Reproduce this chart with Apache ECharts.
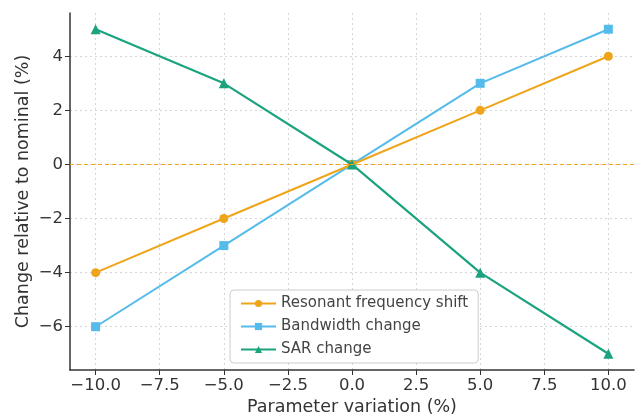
<!DOCTYPE html>
<html><head><meta charset="utf-8">
<script src="https://cdn.jsdelivr.net/npm/echarts@6/dist/echarts.min.js"></script>
<style>html,body{margin:0;padding:0;background:#fff}#c{width:641px;height:416px}</style>
</head><body><div id="c"></div>
<script>
const xValues = [-10, -5, 0, 5, 10];
const resonantShift = [-4, -2, 0, 2, 4];
const bandwidthChange = [-6, -3, 0, 3, 5];
const sarChange = [5, 3, 0, -4, -7];
const xTicks = [-10, -7.5, -5, -2.5, 0, 2.5, 5, 7.5, 10];
const yTicks = [-6, -4, -2, 0, 2, 4];
const seriesNames = ['Resonant frequency shift', 'Bandwidth change', 'SAR change'];
const colors = ['#EFA51A', '#55BBEA', '#1AA37E'];

const pair = arr => xValues.map((x, i) => [x, arr[i]]);
const minus = s => String(s).replace('-', '\u2212');
const font = 'DejaVu Sans';
const txt = '#333';

const chart = echarts.init(document.getElementById('c'));
chart.setOption({
  animation: false,
  textStyle: { fontFamily: font },
  grid: { left: 70, right: 7, top: 13, bottom: 46, containLabel: false, outerBoundsMode: 'none' },
  xAxis: {
    type: 'value', min: -11, max: 11,
    name: 'Parameter variation (%)', nameLocation: 'middle', nameGap: 28, nameMoveOverlap: false,
    nameTextStyle: { fontFamily: font, fontSize: 17.5, color: txt },
    axisLine: { show: true, onZero: false, lineStyle: { color: '#333', width: 1.5 } },
    axisTick: { show: true, customValues: xTicks, length: 5, lineStyle: { color: '#333' } },
    axisLabel: { customValues: xTicks, formatter: v => minus(v.toFixed(1)), fontFamily: font, fontSize: 16.5, color: txt, margin: 7 },
    splitLine: { show: true, lineStyle: { color: '#d6d6d6', type: [2, 3], width: 1 } }
  },
  yAxis: {
    type: 'value', min: -7.6, max: 5.6,
    name: 'Change relative to nominal (%)', nameLocation: 'middle', nameGap: 38, nameRotate: 90, nameMoveOverlap: false,
    nameTextStyle: { fontFamily: font, fontSize: 17.5, color: txt },
    axisLine: { show: true, onZero: false, lineStyle: { color: '#333', width: 1.5 } },
    axisTick: { show: true, customValues: yTicks, length: 5, lineStyle: { color: '#333' } },
    axisLabel: { customValues: yTicks, formatter: v => minus(v), fontFamily: font, fontSize: 16.5, color: txt, margin: 7 },
    splitLine: { show: true, lineStyle: { color: '#d6d6d6', type: [2, 3], width: 1 } }
  },
  legend: {
    orient: 'vertical', left: 230, top: 290,
    backgroundColor: '#fff', borderColor: '#ccc', borderWidth: 1, borderRadius: 4,
    padding: [6, 10, 6, 10], itemGap: 8, itemWidth: 35, itemHeight: 9,
    textStyle: { fontFamily: font, fontSize: 15, color: '#444' },
    data: seriesNames
  },
  series: [
    { name: seriesNames[0], type: 'line', data: pair(resonantShift), color: colors[0],
      symbol: 'circle', symbolSize: 9, lineStyle: { width: 2 }, z: 3,
      markLine: { silent: true, symbol: 'none', label: { show: false },
        itemStyle: { color: colors[0] },
        lineStyle: { color: colors[0], type: [4, 3], width: 1.2, opacity: 1 },
        emphasis: { disabled: true },
        data: [{ yAxis: 0 }] } },
    { name: seriesNames[1], type: 'line', data: pair(bandwidthChange), color: colors[1],
      symbol: 'rect', symbolSize: 9, lineStyle: { width: 2 }, z: 2 },
    { name: seriesNames[2], type: 'line', data: pair(sarChange), color: colors[2],
      symbol: 'triangle', symbolSize: 10, lineStyle: { width: 2.2 }, z: 4 }
  ]
});
</script></body></html>
